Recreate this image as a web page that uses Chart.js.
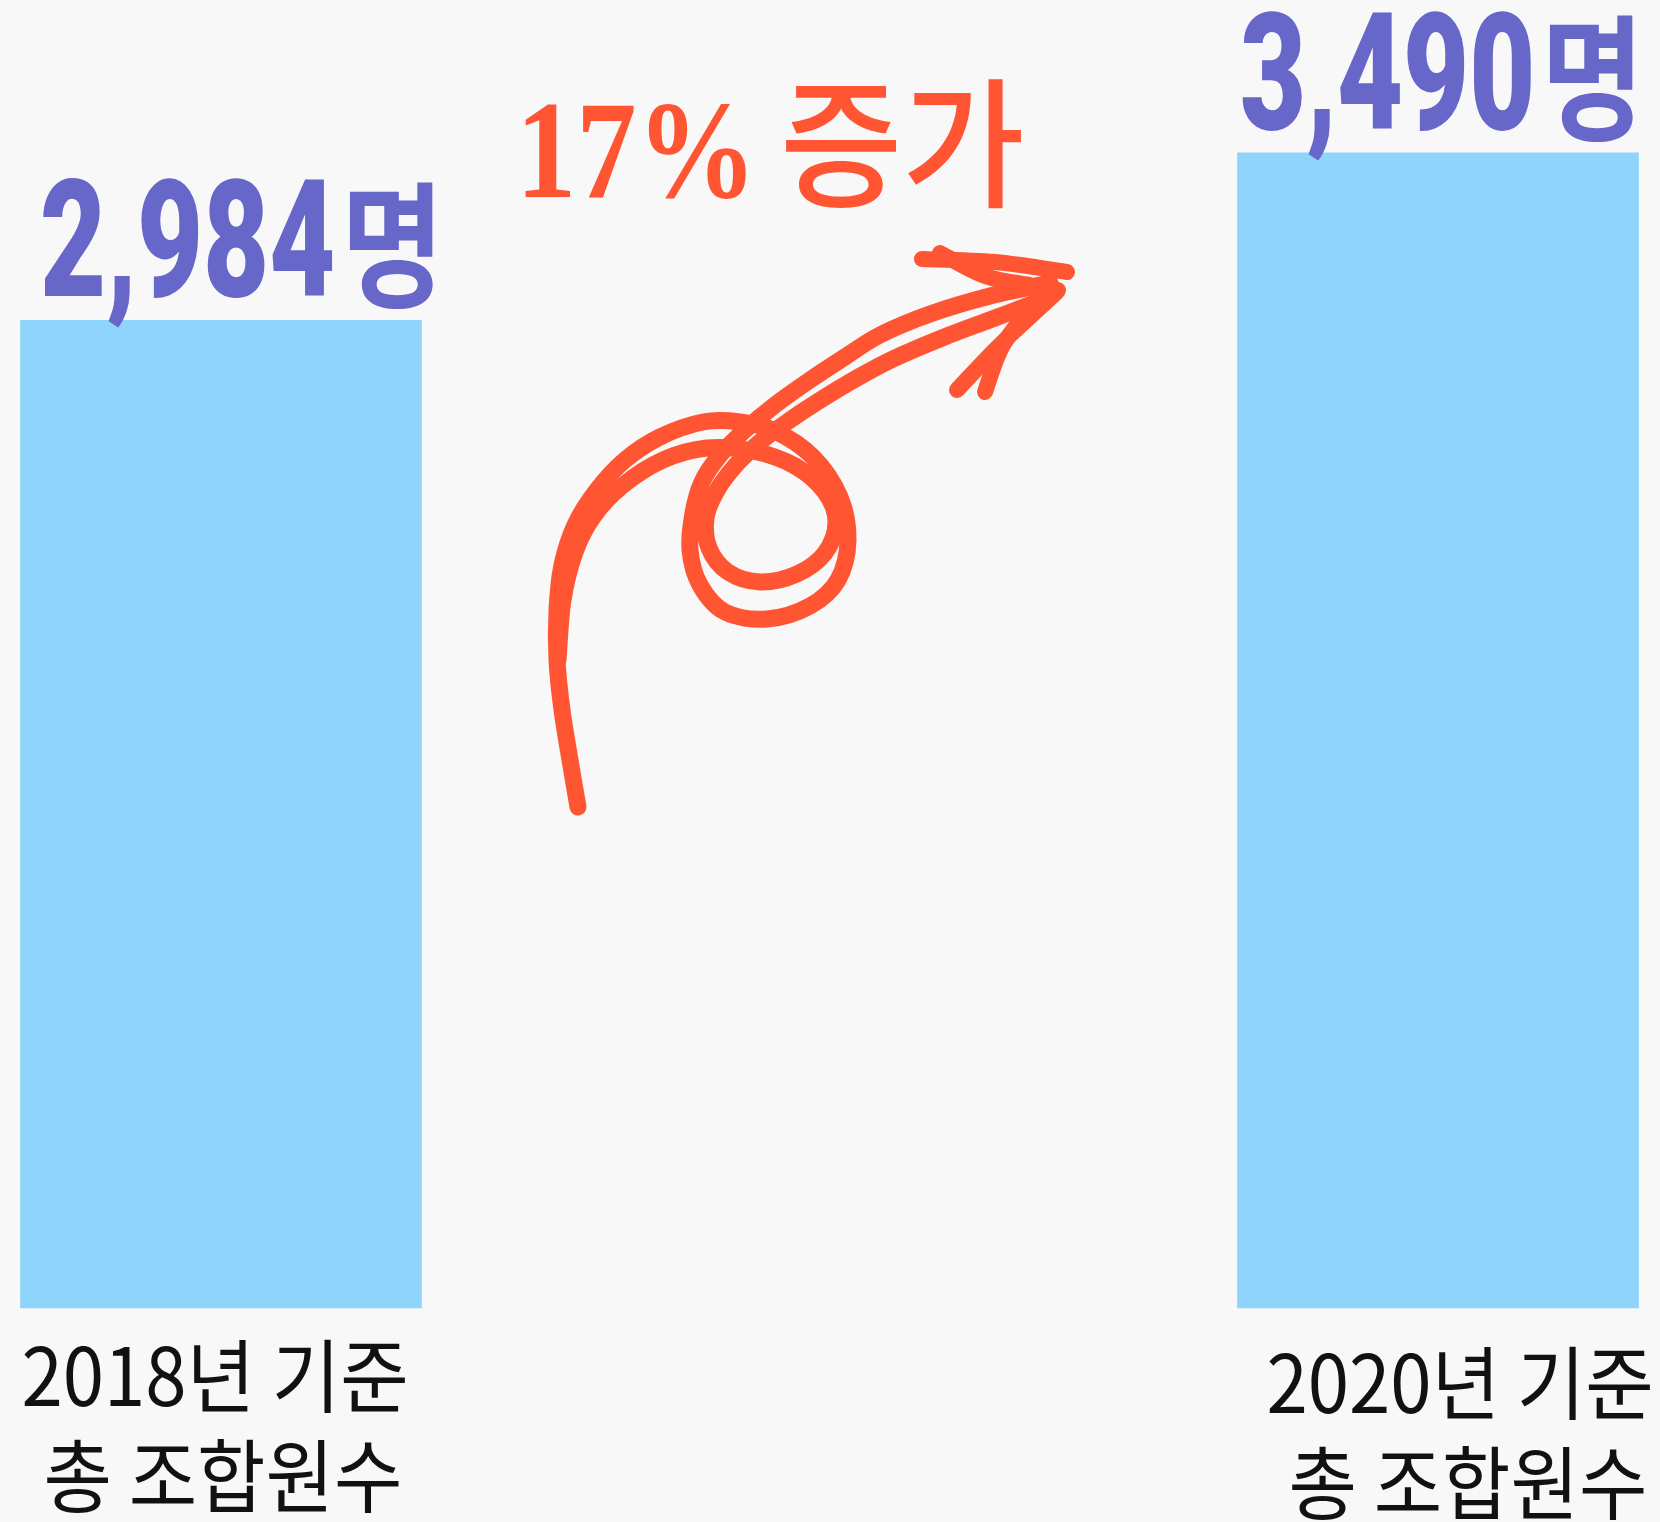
<!DOCTYPE html>
<html>
<head>
<meta charset="utf-8">
<script src="https://cdn.jsdelivr.net/npm/chart.js@4/dist/chart.umd.min.js"></script>
<style>
  html, body { margin: 0; padding: 0; background: #f8f8f8; }
  #wrap { width: 1660px; height: 1522px; }
  canvas { display: block; }
</style>
</head>
<body>
<div id="wrap"><canvas id="chart" width="1660" height="1522"></canvas></div>
<script>
// ---- data ----
const categories = ['2018년 기준', '2020년 기준'];
const categorySubLabels = ['총 조합원수', '총 조합원수'];
const memberCounts = [2984, 3490];
const valueUnit = '명';
const changeNumber = '17%';
const changeWord = '증가';

// ---- styles ----
const BAR_COLOR = '#8FD4FB';
const VALUE_COLOR = '#6766C9';
const ACCENT = '#FF5533';

function smoothPath(ctx, pts) {
  ctx.moveTo(pts[0][0], pts[0][1]);
  for (let i = 0; i < pts.length - 1; i++) {
    const p0 = pts[i - 1] || pts[i], p1 = pts[i], p2 = pts[i + 1], p3 = pts[i + 2] || p2;
    ctx.bezierCurveTo(
      p1[0] + (p2[0] - p0[0]) / 6, p1[1] + (p2[1] - p0[1]) / 6,
      p2[0] - (p3[0] - p1[0]) / 6, p2[1] - (p3[1] - p1[1]) / 6,
      p2[0], p2[1]);
  }
}

const overlay = {
  id: 'overlay',
  afterDatasetsDraw(chart) {
    const ctx = chart.ctx;
    const area = chart.chartArea;
    const meta = chart.getDatasetMeta(0);
    const NUM_FONT = '900 163px Roboto';
    const NUM_SX = 0.70;
    const UNIT_FONT = '700 136px "Noto Sans CJK KR"';
    const UNIT_SX = 0.82;
    const LBL_FONT = '400 80px "Noto Sans CJK KR"';
    const LBL_SX = 0.93;
    const valueNudge = [21, 4];
    const labelNudge = [[-6, 0], [22, 7]];

    meta.data.forEach((bar, i) => {
      // value label above bar
      const num = memberCounts[i].toLocaleString('en-US');
      ctx.save();
      ctx.textAlign = 'left';
      ctx.textBaseline = 'alphabetic';
      ctx.fillStyle = VALUE_COLOR;
      ctx.font = NUM_FONT;
      const numW = ctx.measureText(num).width * NUM_SX;
      ctx.font = UNIT_FONT;
      const unitW = ctx.measureText(valueUnit).width * UNIT_SX;
      const gap = 6;
      const total = numW + gap + unitW;
      const x0 = bar.x + valueNudge[i] - total / 2;
      const base = bar.y - 24;
      ctx.save(); ctx.translate(x0, base); ctx.scale(NUM_SX, 1);
      ctx.font = NUM_FONT; ctx.fillText(num, 0, 0); ctx.restore();
      ctx.save(); ctx.translate(x0 + numW + gap, base + 1); ctx.scale(UNIT_SX, 1);
      ctx.font = UNIT_FONT; ctx.fillText(valueUnit, 0, 0); ctx.restore();

      // category labels below bar
      ctx.fillStyle = '#111111';
      ctx.textAlign = 'center';
      const cx = bar.x + labelNudge[i][0];
      const b1 = area.bottom + 98 + labelNudge[i][1];
      ctx.save(); ctx.translate(cx, b1); ctx.scale(LBL_SX, 1);
      ctx.font = LBL_FONT; ctx.fillText(categories[i], 0, 0); ctx.restore();
      ctx.save(); ctx.translate(cx + 8, b1 + 100); ctx.scale(LBL_SX, 1);
      ctx.font = LBL_FONT; ctx.fillText(categorySubLabels[i], 0, 0); ctx.restore();
      ctx.restore();
    });

    // annotation text
    ctx.save();
    ctx.setTransform(1, 0, 0, 1, 0, 0);
    ctx.fillStyle = ACCENT;
    ctx.textAlign = 'left';
    ctx.textBaseline = 'alphabetic';
    ctx.save(); ctx.translate(516, 197); ctx.scale(0.86, 1);
    ctx.font = '700 140px "Liberation Serif"'; ctx.fillText(changeNumber, 0, 0); ctx.restore();
    ctx.save(); ctx.translate(780, 196); ctx.scale(0.95, 1);
    ctx.font = '500 140px "Noto Sans CJK KR"'; ctx.fillText(changeWord, 0, 0); ctx.restore();

    // hand-drawn arrow
    ctx.strokeStyle = ACCENT;
    ctx.lineCap = 'round';
    ctx.lineJoin = 'round';
    ctx.setLineDash([]);
    ctx.lineWidth = 17;
    const strokeA = [[578,807],[570,760],[562,710],[557,660],[557,610],[562,565],[575,525],[597,490],[625,460],[660,437],[703,422],[740,422],[775,431],[813,457],[840,497],[848,540],[838,580],[810,606],[767,619],[725,612],[700,585],[690,550],[693,513],[702,482],[720,455],[745,430],[775,405],[810,380],[845,357],[880,335],[930,314],[990,296],[1050,283]];
    const strokeB = [[558,660],[563,600],[575,552],[593,517],[622,486],[663,460],[707,448],[753,451],[795,466],[825,492],[836,522],[825,553],[797,574],[760,582],[728,572],[709,548],[706,518],[716,492],[735,466],[760,442],[790,420],[822,399],[857,378],[893,359],[942,338],[995,318],[1045,299]];
    [strokeA, strokeB].forEach(p => { ctx.beginPath(); smoothPath(ctx, p); ctx.stroke(); });
    ctx.lineWidth = 16;
    const head = [
      [[922,259],[995,262],[1067,272]],
      [[940,253],[985,276],[1030,285]],
      [[957,390],[1000,345],[1057,292]],
      [[985,392],[1003,345],[1035,305],[1058,290]]
    ];
    head.forEach(p => { ctx.beginPath(); smoothPath(ctx, p); ctx.stroke(); });
    ctx.restore();
  }
};

new Chart(document.getElementById('chart'), {
  type: 'bar',
  data: {
    labels: categories,
    datasets: [{
      data: memberCounts,
      backgroundColor: BAR_COLOR,
      borderWidth: 0,
      barThickness: 401,
      clip: false
    }]
  },
  options: {
    responsive: false,
    animation: false,
    layout: { padding: { left: 221, right: 222, top: 0, bottom: 214 } },
    plugins: { legend: { display: false }, tooltip: { enabled: false } },
    scales: {
      x: { display: false, offset: false },
      y: { display: false, min: 0, max: 3952 }
    }
  },
  plugins: [overlay, {
    id: 'bg',
    beforeDraw(chart) {
      const c = chart.ctx; c.save(); c.fillStyle = '#f8f8f8';
      c.fillRect(0, 0, chart.width, chart.height); c.restore();
    }
  }]
});
</script>
</body>
</html>
